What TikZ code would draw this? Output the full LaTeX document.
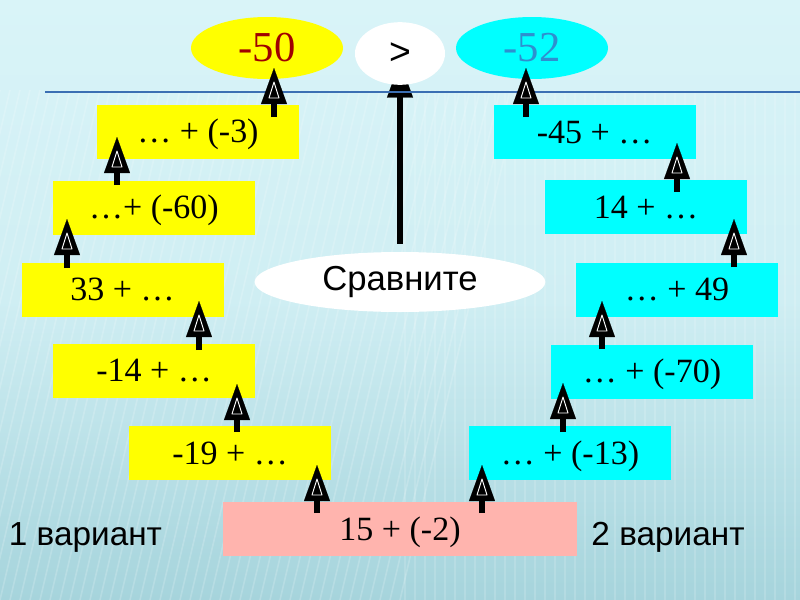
\documentclass[tikz,border=0pt]{standalone}
\usepackage{fontspec}
\setmainfont{Liberation Serif}
\newfontfamily\sansf{Liberation Sans}
\usetikzlibrary{arrows.meta,shapes.geometric,calc}
\pgfdeclarelayer{back}
\pgfdeclarelayer{mid}
\pgfsetlayers{back,mid,main}

\definecolor{bgtop}{HTML}{D9F4F8}
\definecolor{bgmid}{HTML}{CFEEF3}
\definecolor{bgbot}{HTML}{A6D4DC}
\definecolor{ylw}{HTML}{FFFF00}
\definecolor{cyn}{HTML}{00FFFF}
\definecolor{pnk}{HTML}{FFB4AE}
\definecolor{redtxt}{HTML}{A00000}
\definecolor{bluetxt}{HTML}{2E8FCF}
\definecolor{hline}{HTML}{3B6FB3}

\tikzset{
  box/.style={rectangle, inner sep=0pt, minimum width=151.5pt, minimum height=40.5pt,
    text height=17.2pt, text depth=0pt, font=\fontsize{25.5}{30}\selectfont},
  ybox/.style={box, fill=ylw},
  cbox/.style={box, fill=cyn},
  pbox/.style={box, fill=pnk, minimum width=265.5pt},
  oval/.style={ellipse, inner sep=0pt},
  arr/.style={line width=5pt, -{Triangle[length=27pt, width=19.5pt, line width=0.1pt]}},
  lbl/.style={font=\sansf\fontsize{25}{30}\selectfont, anchor=base},
  inner/.style={white, line width=0.7pt, line join=round},
}

\newcommand\uparr[2]{%
  \draw[arr] (#1) -- (#2);
  \draw[inner] ($(#2)+(0,14)$) -- ($(#2)+(-5,30)$) -- ($(#2)+(5,30)$) -- cycle;}

\begin{document}
\begin{tikzpicture}[x=0.75pt, y=-0.75pt]
\useasboundingbox (0,0) rectangle (800,600);
\begin{pgfonlayer}{back}
  \shade[top color=bgtop, bottom color=bgbot, middle color=bgmid] (0,0) rectangle (800,600);
  \foreach \i in {-300,-290,...,400}
    \draw[white, opacity=0.18, line width=1.2pt] (\i+120,90) -- (\i,600);
  \foreach \i in {405,415,...,800}
    \draw[white, opacity=0.15, line width=1.2pt] (\i,90) -- (\i,600);
\end{pgfonlayer}

% horizontal line
\draw[hline, line width=1.6pt] (45,92) -- (800,92);

% result ovals
\node[oval, fill=ylw, minimum width=114pt, minimum height=46.5pt,
      font=\fontsize{32}{36}\selectfont, text=redtxt] (r50) at (267,48) {-50};
\node[oval, fill=white, minimum width=67.5pt, minimum height=47pt,
      font=\sansf\fontsize{28}{32}\selectfont] (gt) at (400,53.5) {>};
\node[oval, fill=cyn, minimum width=114pt, minimum height=46.5pt,
      font=\fontsize{32}{36}\selectfont, text=bluetxt] (r52) at (532,48) {-52};

% compare oval
\node[oval, fill=white, minimum width=218pt, minimum height=45pt,
      font=\sansf\fontsize{26}{30}\selectfont] (cmp) at (400,282) {Сравните};

% central arrow (behind the white oval)
\begin{pgfonlayer}{mid}
  \draw[arr, shorten <=6pt] (cmp.north) -- ([yshift=-6pt]gt.center);
\end{pgfonlayer}

% left boxes
\node[ybox] (l1) at (198,131.5) {… + (-3)};
\node[ybox] (l2) at (154,207.5) {…+ (-60)};
\node[ybox] (l3) at (122.5,289.5) {33 + …};
\node[ybox] (l4) at (154,370.5) {-14 + …};
\node[ybox] (l5) at (230,453) {-19 + …};

% start box
\node[pbox] (st) at (400,529) {15 + (-2)};

% right boxes
\node[cbox] (r1) at (594.5,132) {-45 + …};
\node[cbox] (r2) at (646,207) {14 + …};
\node[cbox] (r3) at (677,289.5) {… + 49};
\node[cbox] (r4) at (652,371.5) {… + (-70)};
\node[cbox] (r5) at (570,453) {… + (-13)};

% labels
\node[lbl] (v1) at (85.5,545) {1 вариант};
\node[lbl] (v2) at (668,545) {2 вариант};

% arrow end points
\coordinate (a1s) at (317,513); \coordinate (a1e) at (317,465);
\coordinate (a2s) at (237,432); \coordinate (a2e) at (237,384);
\coordinate (a3s) at (199,350); \coordinate (a3e) at (199,301);
\coordinate (a4s) at (67,268);  \coordinate (a4e) at (67,219);
\coordinate (a5s) at (117,185); \coordinate (a5e) at (117,137);
\coordinate (a6s) at (274,117); \coordinate (a6e) at (274,68);
\coordinate (b1s) at (482,513); \coordinate (b1e) at (482,465);
\coordinate (b2s) at (563,432); \coordinate (b2e) at (563,383);
\coordinate (b3s) at (602,349); \coordinate (b3e) at (602,301);
\coordinate (b4s) at (734,267); \coordinate (b4e) at (734,219);
\coordinate (b5s) at (677,192); \coordinate (b5e) at (677,143);
\coordinate (b6s) at (526,117); \coordinate (b6e) at (526,68);

\uparr{a1s}{a1e}
\uparr{a2s}{a2e}
\uparr{a3s}{a3e}
\uparr{a4s}{a4e}
\uparr{a5s}{a5e}
\uparr{a6s}{a6e}
\uparr{b1s}{b1e}
\uparr{b2s}{b2e}
\uparr{b3s}{b3e}
\uparr{b4s}{b4e}
\uparr{b5s}{b5e}
\uparr{b6s}{b6e}
\end{tikzpicture}
\end{document}
